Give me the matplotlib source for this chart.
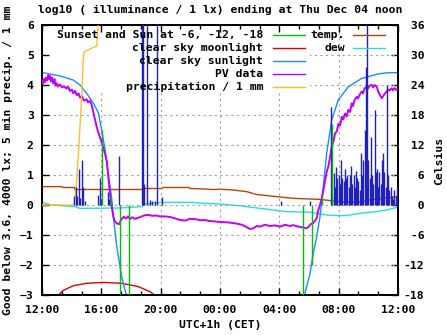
import numpy as np
import matplotlib.pyplot as plt
from matplotlib.patches import Rectangle
from matplotlib.lines import Line2D

W, H = 447, 335

# time axis: hours after 12:00 (CET) of the previous day
tick_hours = [0, 4, 8, 12, 16, 20, 24]
tick_labels = ['12:00', '16:00', '20:00', '00:00', '04:00', '08:00', '12:00']

# clear sky sunlight, log10(lx)
sun_t = [0, 0.2, 1.21, 2.09, 2.56, 3.01, 3.46, 3.80, 4.02, 4.25, 4.47, 4.65, 4.81,
         5.04, 5.37, 5.71, 6.0, np.nan,
         17.5, 17.73, 18.07, 18.29, 18.52, 18.74, 18.9, 19.0, 19.19, 19.53, 19.97,
         20.65, 21.55, 22.67, 23.35, 24]
sun_v = [4.4, 4.4, 4.3, 4.17, 4.0, 3.72, 3.4, 3.07, 2.5, 1.85, 1.0, 0.4, -0.4,
         -1.39, -2.39, -3.06, -3.6, np.nan,
         -3.6, -2.94, -2.28, -1.6, -1.06, -0.39, 0.28, 0.8, 1.72, 2.83, 3.5,
         3.94, 4.22, 4.37, 4.41, 4.41]

# clear sky moonlight
moon_t = [0.6, 1.10, 1.42, 2.11, 3.01, 4.13, 5.37, 6.49, 7.28, 7.73, 8.2]
moon_v = [-3.5, -3.0, -2.85, -2.69, -2.61, -2.58, -2.61, -2.72, -2.89, -3.05, -3.5]

# sunset / sun at -6, -12, -18 (evening and morning)
sunev_t = [4.02, 4.65, 5.28, 5.89, 17.62, 18.22, 18.86, 19.55]
sunev_v = [2.5, 0.35, -3.5, -3.5, -3.5, -2.0, 0.3, 2.7]

# PV data
pv_t = [0, 0.07, 0.13, 0.2, 0.27, 0.34, 0.42, 0.47, 0.54, 0.61, 0.67, 0.76, 0.84,
        0.91, 0.99, 1.08, 1.21, 1.35, 1.48, 1.67, 1.75, 1.89, 2.02, 2.11, 2.22,
        2.36, 2.46, 2.56, 2.70, 2.83, 3.01, 3.10, 3.24, 3.34, 3.46, 3.57, 3.69,
        3.78, 3.91, 4.01, 4.13, 4.25, 4.37, 4.47, 4.58, 4.70, 4.81, 4.92, 5.06,
        5.21, 5.33, 5.51, 5.66, 5.80, 5.93, 6.07, 6.27, 6.52, 6.74, 6.94, 7.19,
        7.42, 7.69, 7.96, 8.31, 8.63, 8.99, 9.30, 9.66, 9.98, 10.34, 10.65, 10.99,
        11.24, 11.66, 12.14, 12.54, 13.13, 13.48, 13.82, 14.02, 14.25, 14.47,
        14.70, 15.03, 15.37, 15.71, 16.05, 16.38, 16.72, 16.94, 17.26, 17.62,
        17.80, 17.95, 18.14, 18.29, 18.52, 18.61, 18.74, 18.86, 18.97, 19.08,
        19.19, 19.30, 19.42, 19.53, 19.64, 19.76, 19.87, 19.98, 20.09, 20.21,
        20.31, 20.43, 20.54, 20.65, 20.77, 20.88, 20.97, 21.07, 21.22, 21.30,
        21.44, 21.55, 21.64, 21.74, 21.89, 21.98, 22.08, 22.23, 22.32, 22.42,
        22.57, 22.65, 22.75, 22.90, 22.99, 23.09, 23.24, 23.33, 23.43, 23.58,
        23.66, 23.77, 23.91, 24.0]
pv_v = [4.15, 4.05, 4.2, 4.1, 4.25, 4.15, 4.33, 4.2, 4.3, 4.12, 4.25, 4.05, 4.2,
        3.98, 4.06, 3.95, 4.02, 3.92, 3.96, 3.88, 3.95, 3.8, 3.85, 3.72, 3.8,
        3.66, 3.72, 3.58, 3.62, 3.48, 3.52, 3.42, 3.47, 3.35, 3.1, 2.85, 2.6,
        2.45, 2.25, 2.1, 1.92, 1.7, 1.45, 0.95, 0.4, -0.06, -0.39, -0.55, -0.62,
        -0.64, -0.5, -0.39, -0.45, -0.38, -0.47, -0.41, -0.46, -0.42, -0.38,
        -0.34, -0.33, -0.36, -0.35, -0.38, -0.38, -0.4, -0.45, -0.5, -0.52,
        -0.46, -0.47, -0.51, -0.5, -0.53, -0.55, -0.57, -0.58, -0.62, -0.66,
        -0.74, -0.8, -0.78, -0.7, -0.72, -0.66, -0.7, -0.68, -0.72, -0.66, -0.7,
        -0.67, -0.72, -0.75, -0.78, -0.74, -0.63, -0.6, -0.44, -0.2, 0.0, 0.22,
        0.5, 0.8, 1.1, 1.28, 1.6, 1.94, 2.1, 2.39, 2.45, 2.7, 2.65, 2.94, 2.85,
        3.05, 2.95, 3.17, 3.1, 3.39, 3.3, 3.5, 3.61, 3.55, 3.7, 3.78, 3.72, 3.88,
        3.94, 3.88, 3.98, 4.0, 3.92, 4.0, 3.94, 3.8, 3.7, 3.56, 3.62, 3.7, 3.78,
        3.85, 3.82, 3.89, 3.82, 3.9, 3.83, 3.86]

# precipitation / 1 mm (cumulative)
rain_t = [0, 2.16, 2.29, 2.43, 2.56, 2.68, 2.78, 2.83, 3.24, 3.69, 3.78, 3.84, 24]
rain_v = [0, 0, 0.5, 1.5, 2.6, 3.7, 4.8, 5.1, 5.2, 5.3, 6.0, 6.5, 8.0]

# 5 min precipitation impulses
bar_t = [2.18, 2.27, 2.36, 2.49, 2.58, 2.72, 2.79, 2.90, 3.80, 3.91, 3.98, 4.47,
         4.55, 4.65, 5.21, 6.76, 6.84, 6.91, 7.10, 7.28, 7.42, 7.64, 7.77, 8.09,
         16.11, 18.07]
bar_v = [0.3, 0.61, 0.3, 1.2, 0.25, 1.5, 0.61, 0.15, 0.33, 0.89, 0.2, 0.44,
         0.2, 0.15, 1.63, 8, 8, 0.7, 8, 0.17, 0.13, 0.13, 8, 0.28,
         0.13, 0.13]
morning_start = 19.5
morning_v = [3.28, 0.3, 1.06, 0.61, 1.28, 0.9, 1.0, 0.7, 1.5, 0.9, 0.8, 1.2, 0.9,
             1.0, 0.6, 1.0, 1.3, 0.7, 1.0, 0.6, 1.15, 0.9, 0.8, 0.5, 1.72, 1.0,
             1.5, 2.5, 4.61, 8, 1.5, 0.9, 2.28, 1.0, 0.7, 3.17, 1.1, 1.2, 0.6,
             1.1, 0.7, 1.5, 1.72, 1.1, 0.6, 4.0, 1.0, 0.5, 0.61, 0.3, 0.2, 0.5,
             0.3, 0.6]

# temperature and dew point, Celsius
temp_t = [0, 1.35, 1.42, 2.18, 2.22, 6.74, 6.81, 8.09, 8.16, 9.89, 9.98, 10.99,
          11.46, 12.0, 12.9, 13.8, 14.47, 15.1, 15.82, 16.94, 18.07, 18.74,
          19.64, 20.54, 21.44, 22.11, 23.01, 23.91, 24]
temp_v = [3.67, 3.67, 3.5, 3.5, 3.1, 3.1, 3.3, 3.3, 3.5, 3.5, 3.3, 3.2,
          3.1, 3.15, 3.0, 2.67, 2.1, 1.9, 1.67, 1.33, 1.2, 1.13,
          0.8, 0.53, 0.6, 1.0, 1.33, 1.67, 1.7]
dew_t = [0, 0.22, 0.67, 2.25, 2.5, 5.21, 6.74, 6.97, 8.09, 10.1, 10.8, 12.0,
         13.2, 14.7, 16.5, 18.07, 19.19, 20.1, 20.77, 21.4, 22.5, 23.2, 23.9, 24]
dew_v = [0.67, 0.35, 0.0, -0.33, -0.67, -0.6, -0.33, 0.2, 0.53, 0.53, 0.35, 0.2,
         -0.1, -0.67, -1.33, -1.44, -2.0, -2.15, -2.0, -1.67, -1.33, -1.0, -0.5,
         -0.4]

c_green = '#00c000'
c_red = '#e00000'
c_blue = '#1a8cff'
c_purple = '#c000ff'
c_orange = '#ffc020'
c_temp = '#c04000'
c_dew = '#20e0e0'
c_bar = '#2020c0'

plt.rcParams['font.family'] = 'DejaVu Sans Mono'
plt.rcParams['font.weight'] = 'bold'
plt.rcParams['font.size'] = 8.2

fig = plt.figure(figsize=(W / 100, H / 100), dpi=100)
ax = fig.add_axes([42 / W, 40 / H, 356 / W, 270 / H])
ax2 = ax.twinx()

ax.set_xlim(0, 24)
ax.set_ylim(-3, 6)
ax2.set_ylim(-18, 36)

grid_style = dict(color='#a0a0a0', lw=0.8, ls=(0, (2, 3)), zorder=0)
for y in range(-2, 6):
    ax.axhline(y, **grid_style)
for x in tick_hours[1:-1]:
    ax.axvline(x, **grid_style)

# white key box covers the grid
ax.add_patch(Rectangle((45 / W, 1 - 92 / H), 265 / W, 65 / H,
                       transform=fig.transFigure, facecolor='white',
                       edgecolor='none', zorder=0.5))

ax.plot(moon_t, moon_v, color=c_red, lw=1, zorder=2)
ax.plot(sun_t, sun_v, color=c_blue, lw=1, zorder=2)
ax.plot(pv_t, pv_v, color=c_purple, lw=1.4, zorder=3)
ax.plot(rain_t, rain_v, color=c_orange, lw=1, zorder=3)
ax.vlines(bar_t, 0, bar_v, color=c_bar, lw=1.0, zorder=4)
morning_t = morning_start + np.arange(len(morning_v)) * 5 / 60
ax.vlines(morning_t, 0, morning_v, color=c_bar, lw=1.0, zorder=4)
ax.vlines(sunev_t, 0, sunev_v, color=c_green, lw=1.0, zorder=5)
ax2.plot(temp_t, temp_v, color=c_temp, lw=1, zorder=5)
ax2.plot(dew_t, dew_v, color=c_dew, lw=1, zorder=5)

ax.set_xticks(tick_hours)
ax.set_xticklabels(tick_labels)
ax.set_xticks(np.arange(0, 24.01, 4 / 3), minor=True)
ax.set_yticks(range(-3, 7))
ax2.set_yticks(range(-18, 37, 6))
ax2.set_yticklabels([f'{v:3d}' for v in range(-18, 37, 6)])

ax.tick_params(axis='x', which='both', direction='in', top=True, pad=7)
ax.tick_params(axis='x', which='major', length=5, width=1)
ax.tick_params(axis='x', which='minor', length=3, width=1)
ax.tick_params(axis='y', direction='in', length=5, width=1, pad=6)
ax2.tick_params(axis='y', direction='in', length=5, width=1, pad=4)

for a in (ax, ax2):
    for s in a.spines.values():
        s.set_linewidth(1.4)
ax.set_zorder(ax2.get_zorder() + 1)
ax.patch.set_visible(False)

fig.text(220 / W, 1 - 10 / H, 'log10 ( illuminance / 1 lx) ending at Thu Dec 04 noon',
         ha='center', va='center')
fig.text(220 / W, 1 - 325 / H, 'UTC+1h (CET)', ha='center', va='center')
fig.text(8 / W, 1 - 160 / H, 'Good below 3.6, 4000 lx; 5 min precip. / 1 mm',
         ha='center', va='center', rotation=90)
fig.text(439 / W, 1 - 161 / H, 'Celsius', ha='center', va='center', rotation=90)

# key, gnuplot style: right-aligned text followed by line sample
key1 = [('Sunset and Sun at -6, -12, -18', c_green), ('clear sky moonlight', c_red),
        ('clear sky sunlight', c_blue), ('PV data', c_purple),
        ('precipitation / 1 mm', c_orange)]
key2 = [('temp.', c_temp), ('dew', c_dew)]
for col, (tx, lx0, lx1) in zip((key1, key2), ((263, 273, 305), (345, 353, 385))):
    for i, (lab, c) in enumerate(col):
        y = 1 - (35 + 13 * i) / H
        fig.text(tx / W, y, lab, ha='right', va='center')
        fig.add_artist(Line2D([lx0 / W, lx1 / W], [y, y], color=c, lw=1))

fig.savefig('out.png', dpi=100)
